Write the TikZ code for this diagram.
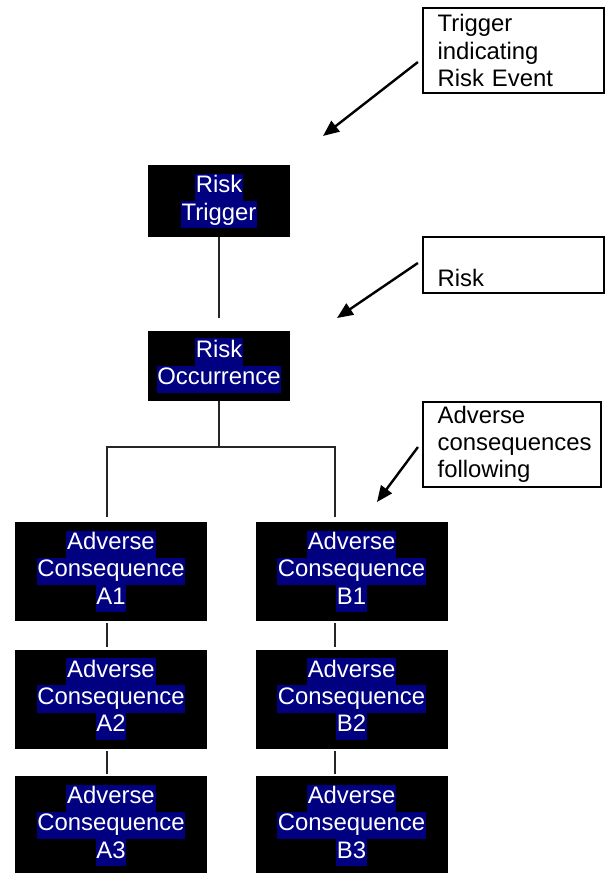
\documentclass[tikz,border=0pt]{standalone}
\usepackage{fontspec}
\setmainfont{Liberation Sans}
\usepackage{xcolor}
\usepackage{tikz}
\usetikzlibrary{arrows.meta, positioning}
\definecolor{HiliteNavy}{RGB}{0, 0, 128}
\newcommand{\hilite}[1]{{\setlength{\fboxsep}{0pt}\colorbox{HiliteNavy}{\strut\kern0.6pt\textcolor{white}{#1}\kern0.6pt}}}

\begin{document}
\begin{tikzpicture}[
    font=\fontsize{17.9pt}{20.4pt}\selectfont,
    riskblock/.style={
        rectangle, fill=black, inner sep=0pt, align=center,
        minimum width=106.5pt, minimum height=54pt
    },
    consblock/.style={
        riskblock, minimum width=144pt, minimum height=74.25pt
    },
    callout/.style={
        rectangle, draw=black, line width=1.6pt, fill=white,
        inner xsep=11pt, inner ysep=0pt, align=left
    },
    link/.style={line width=1.2pt, draw=black!85},
    pointer/.style={-{Triangle[length=12pt,width=10pt]}, line width=1.8pt}
]
\useasboundingbox (0,0) rectangle (457.5pt,-654.75pt);

% Nodes
\node[riskblock] (trig) at (164.25pt,-150.75pt) {\hilite{Risk}\\\hilite{Trigger}};
\node[riskblock, minimum height=52.5pt, below=69.75pt of trig] (occ) {\hilite{Risk}\\\hilite{Occurrence}};

\node[consblock] (a1) at (83.25pt,-428.6pt) {\hilite{Adverse}\\\hilite{Consequence}\\\hilite{A1}};
\node[consblock, below=21pt of a1] (a2) {\hilite{Adverse}\\\hilite{Consequence}\\\hilite{A2}};
\node[consblock, below=20.25pt of a2] (a3) {\hilite{Adverse}\\\hilite{Consequence}\\\hilite{A3}};
\node[consblock, right=36pt of a1] (b1) {\hilite{Adverse}\\\hilite{Consequence}\\\hilite{B1}};
\node[consblock, below=21pt of b1] (b2) {\hilite{Adverse}\\\hilite{Consequence}\\\hilite{B2}};
\node[consblock, below=20.25pt of b2] (b3) {\hilite{Adverse}\\\hilite{Consequence}\\\hilite{B3}};

\node[callout, text width=113.75pt, minimum height=63.75pt] (trignote) at (385.1pt,-37.9pt) {Trigger\\indicating\\Risk Event};
\node[callout, text width=113.75pt, minimum height=42pt] (risknote) at (385.1pt,-198.75pt) {\mbox{}\\\raisebox{-6pt}[0pt][0pt]{Risk}};
\node[callout, text width=111.5pt, minimum height=63.75pt] (advnote) at (384pt,-333.4pt) {Adverse\\consequences\\following};

\coordinate (trigtip) at (242.25pt,-102pt);
\coordinate (risktip) at (252.75pt,-238.5pt);
\coordinate (advtip) at (282.75pt,-376.5pt);

% Paths
\draw[link] (trig.south) -- ([yshift=9pt]occ.north);
\draw[link] (occ.south) -- ++(0,-34.5pt) coordinate (fork) -| ([xshift=-3pt,yshift=3.75pt]a1.north);
\draw[link] (fork) -| ([xshift=-12.4pt,yshift=3.75pt]b1.north);

\foreach \col/\dx in {a/-3pt, b/-12.4pt}
    \foreach \i/\j in {1/2, 2/3}
        \draw[link] ([xshift=\dx,yshift=-1.5pt]\col\i.south) -- ([xshift=\dx,yshift=1.5pt]\col\j.north);

\draw[pointer] ([xshift=-3pt,yshift=-8.6pt]trignote.west) -- (trigtip);
\draw[pointer] ([xshift=-3pt,yshift=1.5pt]risknote.west) -- (risktip);
\draw[pointer] ([xshift=-3pt,yshift=-1.9pt]advnote.west) -- (advtip);

\end{tikzpicture}
\end{document}
